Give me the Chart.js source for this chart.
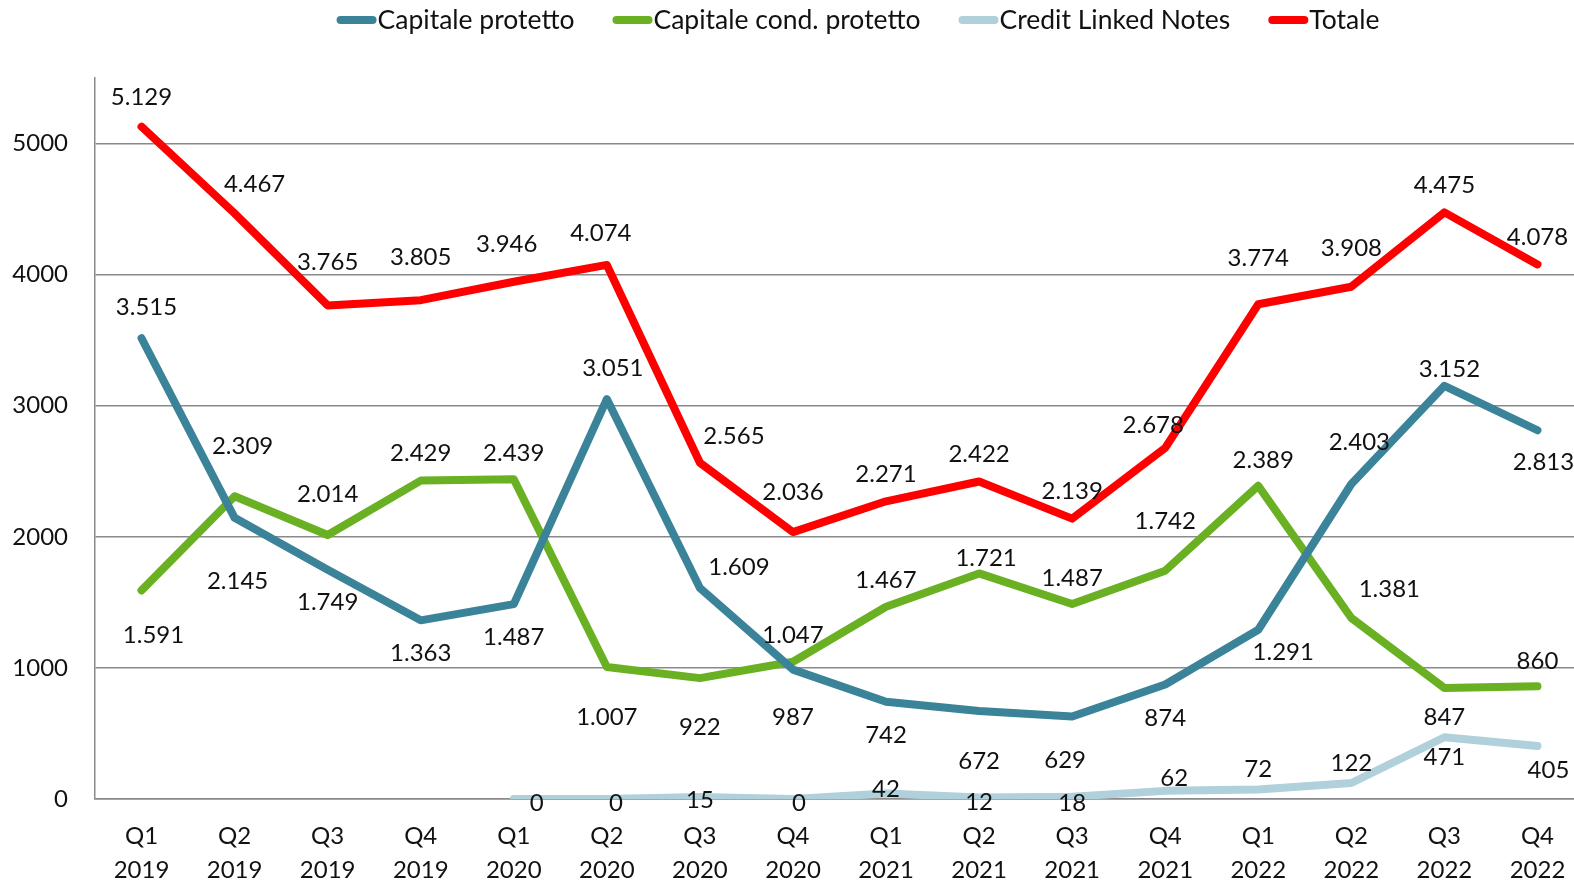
<!DOCTYPE html>
<html>
<head>
<meta charset="utf-8">
<script src="https://cdn.jsdelivr.net/npm/chart.js@4.4.0/dist/chart.umd.min.js"></script>
<style>
    html, body { margin: 0; padding: 0; background: #fff; overflow: hidden; }
    #wrap { width: 1586px; height: 884px; position: relative; }
</style>
</head>
<body>
<div id="wrap"><canvas id="structChart"></canvas></div>
<script>
const quarters = [
    ['Q1', '2019'], ['Q2', '2019'], ['Q3', '2019'], ['Q4', '2019'],
    ['Q1', '2020'], ['Q2', '2020'], ['Q3', '2020'], ['Q4', '2020'],
    ['Q1', '2021'], ['Q2', '2021'], ['Q3', '2021'], ['Q4', '2021'],
    ['Q1', '2022'], ['Q2', '2022'], ['Q3', '2022'], ['Q4', '2022']
];
const capitaleProtetto = [3515, 2145, 1749, 1363, 1487, 3051, 1609, 987, 742, 672, 629, 874, 1291, 2403, 3152, 2813];
const capitaleCondProtetto = [1591, 2309, 2014, 2429, 2439, 1007, 922, 1047, 1467, 1721, 1487, 1742, 2389, 1381, 847, 860];
const creditLinkedNotes = [null, null, null, null, 0, 0, 15, 0, 42, 12, 18, 62, 72, 122, 471, 405];
const totale = [5129, 4467, 3765, 3805, 3946, 4074, 2565, 2036, 2271, 2422, 2139, 2678, 3774, 3908, 4475, 4078];
const yTicks = [0, 1000, 2000, 3000, 4000, 5000];

// label offsets [dx, dy] from the point, per series
const labelOffsets = [
    [[5,-31],[3,63],[0,33],[0,33],[0,33],[6,-31],[39,-21],[0,48],[0,34],[0,50],[-7,44],[0,34],[25,23],[8,-42],[5,-17],[6,32]],
    [[12,45],[8,-50],[0,-41],[0,-27],[0,-26],[0,50],[0,49],[0,-26],[0,-26],[7,-15],[0,-26],[0,-49],[5,-26],[38,-29],[0,29],[0,-25]],
    [[0,0],[0,0],[0,0],[0,0],[23,4],[9,4],[0,3],[6,4],[0,-4],[0,5],[0,7],[9,-13],[0,-20],[0,-20],[0,20],[11,24]],
    [[0,-29],[20,-29],[0,-43],[0,-43],[-7,-37],[-6,-32],[34,-26],[0,-40],[0,-27],[0,-27],[0,-27],[-12,-23],[0,-46],[0,-38],[0,-27],[0,-27]]
];

const FONT = 'Lato, "Open Sans", sans-serif';

function fmt(v) {
    return String(v).replace(/\B(?=(\d{3})+(?!\d))/g, '.');
}

function series(label, values, color) {
    return {
        label: label,
        data: values,
        borderColor: color,
        backgroundColor: color,
        borderWidth: 8,
        pointRadius: 0,
        tension: 0,
        borderJoinStyle: 'round',
        borderCapStyle: 'round',
        spanGaps: false
    };
}

// draws the value labels next to each point
const valueLabels = {
    id: 'valueLabels',
    afterDatasetsDraw(chart) {
        const ctx = chart.ctx;
        ctx.save();
        ctx.font = '24px ' + FONT;
        ctx.fillStyle = '#111';
        ctx.textAlign = 'center';
        ctx.textBaseline = 'middle';
        chart.data.datasets.forEach((ds, di) => {
            const meta = chart.getDatasetMeta(di);
            meta.data.forEach((pt, i) => {
                const v = ds.data[i];
                if (v === null || v === undefined) return;
                const off = labelOffsets[di][i];
                ctx.fillText(fmt(v), pt.x + off[0], pt.y + off[1]);
            });
        });
        ctx.restore();
    }
};

// legend at the top, line swatches right before the text
const topLegend = {
    id: 'topLegend',
    afterDraw(chart) {
        const ctx = chart.ctx;
        ctx.save();
        ctx.font = '26.5px ' + FONT;
        const sw = 40, gapText = 1, gapItem = 38;
        const items = chart.data.datasets.map(ds => ({
            text: ds.label, color: ds.borderColor, w: ctx.measureText(ds.label).width
        }));
        let total = items.reduce((s, it) => s + sw + gapText + it.w, 0) + gapItem * (items.length - 1);
        let x = 858 - total / 2;
        const y = 20;
        items.forEach(it => {
            ctx.strokeStyle = it.color;
            ctx.lineWidth = 8;
            ctx.lineCap = 'round';
            ctx.beginPath();
            ctx.moveTo(x + 4, y);
            ctx.lineTo(x + sw - 4, y);
            ctx.stroke();
            ctx.fillStyle = '#111';
            ctx.textAlign = 'left';
            ctx.textBaseline = 'middle';
            ctx.fillText(it.text, x + sw + gapText, y);
            x += sw + gapText + it.w + gapItem;
        });
        ctx.restore();
    }
};

const data = {
    labels: quarters,
    datasets: [
        series('Capitale protetto', capitaleProtetto, '#3A8399'),
        series('Capitale cond. protetto', capitaleCondProtetto, '#6AB023'),
        series('Credit Linked Notes', creditLinkedNotes, '#B0D0DC'),
        series('Totale', totale, '#FF0000')
    ]
};

const config = {
    type: 'line',
    data,
    plugins: [valueLabels, topLegend],
    options: {
        responsive: true,
        maintainAspectRatio: false,
        animation: false,
        layout: { padding: { top: 78, right: 2, left: 0, bottom: 0 } },
        plugins: {
            legend: { display: false },
            tooltip: { enabled: false }
        },
        scales: {
            x: {
                offset: true,
                afterFit: scale => { scale.height = 85; },
                grid: { display: false, drawTicks: false },
                border: { display: true, color: '#8a8a8a', width: 1.5 },
                ticks: {
                    color: '#111',
                    padding: 20,
                    maxRotation: 0,
                    autoSkip: false,
                    font: { family: FONT, size: 24, lineHeight: 1.42 }
                }
            },
            y: {
                min: 0,
                max: 5500,
                afterBuildTicks: scale => {
                    scale.ticks = yTicks.map(v => ({ value: v }));
                },
                afterFit: scale => { scale.width = 95; },
                grid: { color: '#8a8a8a', lineWidth: 1.5, drawTicks: false },
                border: { display: true, color: '#8a8a8a', width: 1.5 },
                ticks: {
                    color: '#111',
                    padding: 27,
                    callback: v => String(v),
                    font: { family: FONT, size: 24 }
                }
            }
        }
    }
};

const structChart = new Chart(document.getElementById('structChart'), config);
</script>
</body>
</html>
